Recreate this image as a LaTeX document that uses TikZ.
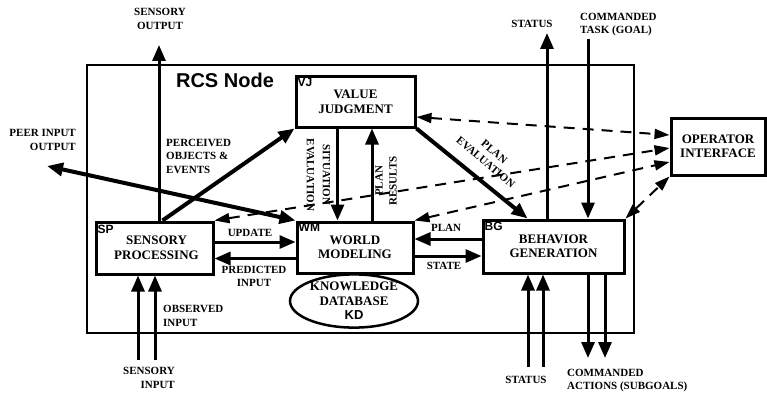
\documentclass[tikz,border=0pt]{standalone}
\usepackage{fontspec}
\setmainfont{Liberation Serif}
\setsansfont{Liberation Sans}
\usetikzlibrary{arrows.meta,shapes.geometric}

\tikzset{
  >={Triangle[length=16pt,width=13pt]},
  module/.style={draw, line width=3pt, inner sep=0pt, align=center,
    font=\fontsize{13}{14.5}\selectfont\bfseries},
  tag/.style={anchor=north west, inner sep=0pt,
    font=\sffamily\bfseries\fontsize{12}{12}\selectfont},
  lbl/.style={inner sep=0pt, font=\fontsize{11}{13.5}\selectfont\bfseries},
  flow/.style={line width=3pt, ->},
  bigflow/.style={line width=4pt, ->},
  opline/.style={line width=2pt, dash pattern=on 11pt off 8pt,
    {Triangle[length=15pt,width=10pt]}-{Triangle[length=15pt,width=10pt]}},
}

\begin{document}
\begin{tikzpicture}[x=1pt, y=-1pt]
      \useasboundingbox (0,0) rectangle (767,393);
      % RCS frame
      \draw[line width=2pt] (87,65) rectangle (634,333);
      \node[font=\sffamily\bfseries\fontsize{20}{20}\selectfont, inner sep=0pt] (rcs) at (225,80) {RCS Node};

      % modules
      \node[module, minimum width=119pt, minimum height=50pt] (vj) at (355.5,102) {VALUE\\JUDGMENT};
      \node[module, minimum width=117pt, minimum height=52pt] (sp) at (154.5,248) {\hspace*{4pt}SENSORY\\\hspace*{4pt}PROCESSING};
      \node[module, minimum width=116pt, minimum height=51pt] (wm) at (355,247.5) {WORLD\\MODELING};
      \node[module, minimum width=141pt, minimum height=53pt] (bg) at (553.5,246.5) {BEHAVIOR\\GENERATION};
      \node[module, minimum width=94pt, minimum height=57pt] (oi) at (718,146.5) {OPERATOR\\INTERFACE};
      \node[module, ellipse, line width=2.5pt, minimum width=128pt, minimum height=50pt] (kd) at (354,301)
        {KNOWLEDGE\\DATABASE\\{\sffamily KD}};

      \node[tag] at ([shift={(3pt,-3pt)}]vj.north west) {VJ};
      \node[tag] at ([shift={(3pt,-4pt)}]sp.north west) {SP};
      \node[tag] at ([shift={(3pt,-3pt)}]wm.north west) {WM};
      \node[tag] at ([shift={(3pt,-3pt)}]bg.north west) {BG};

      % free ends
      \coordinate (sensout) at (159,45);
      \coordinate (peer) at (47,166);
      \coordinate (statusout) at (547,33);
      \coordinate (task) at (588,39);
      \coordinate (sensin1) at (138,360);
      \coordinate (sensin2) at (155,360);
      \coordinate (status1) at (528,367);
      \coordinate (status2) at (543,367);
      \coordinate (action1) at (588,358);
      \coordinate (action2) at (605,358);

      % solid flows
      \draw[flow] (sensout |- sp.north) -- (sensout);
      \draw[bigflow] ([xshift=8pt]sp.north) -- (vj.south west);
      \draw[bigflow, <->] (peer) -- (wm.north west);
      \draw[flow] ([yshift=6pt]sp.east) -- ([yshift=6pt]sp.east -| wm.west);
      \draw[flow] ([yshift=-11pt]wm.west) -- ([yshift=-11pt]wm.west -| sp.east);
      \draw[flow] ([yshift=7.5pt]bg.west) -- ([yshift=7.5pt]bg.west -| wm.east);
      \draw[flow] ([yshift=-8.5pt]wm.east) -- ([yshift=-8.5pt]wm.east -| bg.west);
      \draw[flow] ([xshift=-18pt]vj.south) -- ([xshift=-18pt]vj.south |- wm.north);
      \draw[flow] ([xshift=17pt]wm.north) -- ([xshift=17pt]wm.north |- vj.south);
      \draw[bigflow] (vj.south east) -- ([xshift=-26pt]bg.north);
      \draw[flow] (statusout |- bg.north) -- (statusout);
      \draw[flow] (task) -- (task |- bg.north);
      \draw[flow] (sensin1) -- (sensin1 |- sp.south);
      \draw[flow] (sensin2) -- (sensin2 |- sp.south);
      \draw[flow] (status1) -- (status1 |- bg.south);
      \draw[flow] (status2) -- (status2 |- bg.south);
      \draw[flow] (action1 |- bg.south) -- (action1);
      \draw[flow] (action2 |- bg.south) -- (action2);

      % operator links
      \draw[opline] ([yshift=-15pt]vj.east) -- ([yshift=11.5pt]oi.west);
      \draw[opline] (sp.north east) -- ([yshift=-1.5pt]oi.west);
      \draw[opline] (wm.north east) -- ([yshift=-15.5pt]oi.west);
      \draw[opline] (bg.north east) -- (oi.south west);

      % labels
      \node[lbl, align=center] (lsensout) at (160,19) {SENSORY\\OUTPUT};
      \node[lbl, align=right, anchor=east] (lpeer) at (76,140) {PEER INPUT\\OUTPUT};
      \node[lbl, align=left, anchor=west] (lperc) at (166,156) {PERCEIVED\\OBJECTS \&\\EVENTS};
      \node[lbl] (lupdate) at (250,233) {UPDATE};
      \node[lbl, align=center] (lpred) at (254,276.5) {PREDICTED\\INPUT};
      \node[lbl, align=left, anchor=west] (lobs) at (163,316) {OBSERVED\\INPUT};
      \node[lbl, align=right, anchor=east] (lsensin) at (175,378) {SENSORY\\INPUT};
      \node[lbl] (lplan) at (446,228) {PLAN};
      \node[lbl] (lstate) at (444,266) {STATE};
      \node[lbl] (lstatusout) at (532,24) {STATUS};
      \node[lbl, align=left, anchor=west] (ltask) at (580,24.5) {COMMANDED\\TASK (GOAL)};
      \node[lbl] (lstatusin) at (526,380) {STATUS};
      \node[lbl, align=left, anchor=west] (lactions) at (567,380.5) {COMMANDED\\ACTIONS (SUBGOALS)};
      \node[lbl, align=center, rotate=-90, font=\fontsize{11}{16}\selectfont\bfseries] (lsit) at (318.5,175) {SITUATION\\EVALUATION};
      \node[lbl, align=center, rotate=90, font=\fontsize{11}{14}\selectfont\bfseries] (lres) at (386,181) {PLAN\\RESULTS};
      \node[lbl, align=center, rotate=-40] (leval) at (490,157) {PLAN\\EVALUATION};
\end{tikzpicture}
\end{document}
